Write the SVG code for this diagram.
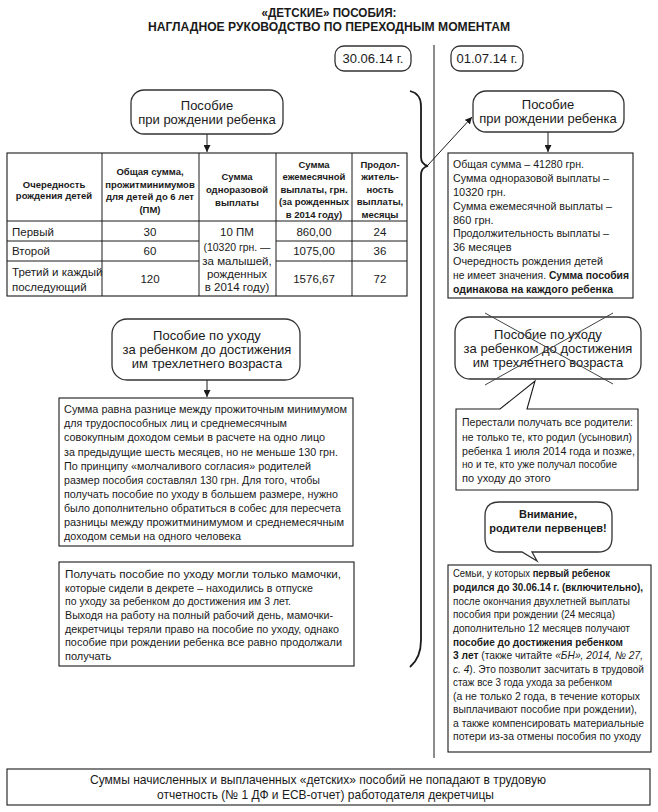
<svg xmlns="http://www.w3.org/2000/svg" width="658" height="812" viewBox="0 0 658 812">
<defs>
<style>
text{font-family:"Liberation Sans",Arial,sans-serif;fill:#1a1a1a}
.t{font-size:13px;font-weight:bold}
.n{font-size:13px;text-anchor:middle}
.f{font-size:13px}
.h{font-size:9.5px;font-weight:bold;text-anchor:middle}
.d{font-size:11.5px;text-anchor:middle}
.dl{font-size:11.5px}
.b{font-size:11px}
.bl{font-size:11.5px}
.box{fill:#fff;stroke:#1a1a1a;stroke-width:1.1}
.rb{fill:#fff;stroke:#333;stroke-width:1.3}
.ln{stroke:#1a1a1a;stroke-width:1;fill:none}
.bold{font-weight:bold}
.it{font-style:italic}
</style>
<marker id="ah" viewBox="0 0 10 10" refX="10" refY="5" markerWidth="7" markerHeight="7" orient="auto" markerUnits="userSpaceOnUse">
<path d="M0,0 L10,5 L0,10 Z" fill="#1a1a1a"/>
</marker>
</defs>
<rect width="658" height="812" fill="#fff"/>

<g id="title">
<text class="t" x="329" y="17" text-anchor="middle" textLength="135" lengthAdjust="spacingAndGlyphs">«ДЕТСКИЕ» ПОСОБИЯ:</text>
<text class="t" x="329" y="31" text-anchor="middle" textLength="362" lengthAdjust="spacingAndGlyphs">НАГЛАДНОЕ РУКОВОДСТВО ПО ПЕРЕХОДНЫМ МОМЕНТАМ</text>
</g>

<g id="connectors">
<line class="ln" x1="434" y1="45" x2="434" y2="758" stroke-width="1.2"/>
<path d="M410,91 C418,93 421,98 421,106 L421,157 C421,162 424,165 428,166 C424,167 421,170 421,175 L421,640 C421,655 416,662 410,667" fill="none" stroke="#1a1a1a" stroke-width="1.8"/>
<line class="ln" x1="428" y1="165" x2="472" y2="117" stroke="#444" marker-end="url(#ah)"/>
<line class="ln" x1="207" y1="134" x2="207" y2="152" marker-end="url(#ah)"/>
<line class="ln" x1="548" y1="132" x2="548" y2="152" marker-end="url(#ah)"/>
<line class="ln" x1="207" y1="380" x2="207" y2="397" marker-end="url(#ah)"/>
</g>

<g id="date-left">
<rect class="rb" x="335" y="46" width="76" height="25" rx="9"/>
<text class="n" x="373" y="63">30.06.14 г.</text>
</g>
<g id="date-right">
<rect class="rb" x="451" y="46" width="72" height="25" rx="9"/>
<text class="n" x="487" y="63">01.07.14 г.</text>
</g>

<g id="birth-left">
<rect class="rb" x="131" y="90" width="152" height="44" rx="13"/>
<text class="n" x="207" y="110">Пособие</text>
<text class="n" x="207" y="124">при рождении ребенка</text>
</g>

<g id="table">
<rect class="box" x="7" y="153" width="400" height="143"/>
<line class="ln" x1="102" y1="153" x2="102" y2="296"/>
<line class="ln" x1="199" y1="153" x2="199" y2="296"/>
<line class="ln" x1="276" y1="153" x2="276" y2="296"/>
<line class="ln" x1="352" y1="153" x2="352" y2="296"/>
<line class="ln" x1="7" y1="221" x2="407" y2="221"/>
<line class="ln" x1="7" y1="241" x2="199" y2="241"/>
<line class="ln" x1="276" y1="241" x2="407" y2="241"/>
<line class="ln" x1="7" y1="261" x2="199" y2="261"/>
<line class="ln" x1="276" y1="261" x2="407" y2="261"/>
<text class="h" x="54" y="187.5">Очередность</text>
<text class="h" x="54" y="199">рождения детей</text>
<text class="h" x="150" y="175">Общая сумма,</text>
<text class="h" x="150" y="187.5">прожитминимумов</text>
<text class="h" x="150" y="200">для детей до 6 лет</text>
<text class="h" x="150" y="212.5">(ПМ)</text>
<text class="h" x="237" y="180">Сумма</text>
<text class="h" x="237" y="193">одноразовой</text>
<text class="h" x="237" y="206">выплаты</text>
<text class="h" x="314" y="167.5">Сумма</text>
<text class="h" x="314" y="180">ежемесячной</text>
<text class="h" x="314" y="192.5">выплаты, грн.</text>
<text class="h" x="314" y="205">(за рожденных</text>
<text class="h" x="314" y="217.5">в 2014 году)</text>
<text class="h" x="380" y="167.5">Продол-</text>
<text class="h" x="380" y="180">житель-</text>
<text class="h" x="380" y="192.5">ность</text>
<text class="h" x="380" y="205">выплаты,</text>
<text class="h" x="380" y="217.5">месяцы</text>
<text class="dl" x="12" y="236">Первый</text>
<text class="dl" x="12" y="255">Второй</text>
<text class="dl" x="12" y="276">Третий и каждый</text>
<text class="dl" x="12" y="291">последующий</text>
<text class="d" x="150" y="236">30</text>
<text class="d" x="150" y="255">60</text>
<text class="d" x="150" y="283">120</text>
<text class="d" x="237" y="236">10 ПМ</text>
<text class="d" x="237" y="251" textLength="67" lengthAdjust="spacingAndGlyphs">(10320 грн. —</text>
<text class="d" x="237" y="265">за малышей,</text>
<text class="d" x="237" y="278">рожденных</text>
<text class="d" x="237" y="291">в 2014 году)</text>
<text class="d" x="314" y="236">860,00</text>
<text class="d" x="314" y="255">1075,00</text>
<text class="d" x="314" y="283">1576,67</text>
<text class="d" x="380" y="236">24</text>
<text class="d" x="380" y="255">36</text>
<text class="d" x="380" y="283">72</text>
</g>

<g id="birth-right">
<rect class="rb" x="473" y="91" width="151" height="41" rx="13"/>
<text class="n" x="548" y="109">Пособие</text>
<text class="n" x="548" y="123">при рождении ребенка</text>
</g>

<g id="birth-right-info">
<rect class="box" x="448" y="153" width="185" height="145"/>
<text class="b" x="453" y="168" textLength="131" lengthAdjust="spacingAndGlyphs">Общая сумма – 41280 грн.</text>
<text class="b" x="453" y="182" textLength="156" lengthAdjust="spacingAndGlyphs">Сумма одноразовой выплаты –</text>
<text class="b" x="453" y="196">10320 грн.</text>
<text class="b" x="453" y="210" textLength="159" lengthAdjust="spacingAndGlyphs">Сумма ежемесячной выплаты –</text>
<text class="b" x="453" y="224">860 грн.</text>
<text class="b" x="453" y="237" textLength="156" lengthAdjust="spacingAndGlyphs">Продолжительность выплаты –</text>
<text class="b" x="453" y="251">36 месяцев</text>
<text class="b" x="453" y="265" textLength="150" lengthAdjust="spacingAndGlyphs">Очередность рождения детей</text>
<text class="b" x="453" y="279" textLength="176" lengthAdjust="spacingAndGlyphs">не имеет значения. <tspan class="bold">Сумма пособия</tspan></text>
<text class="b bold" x="453" y="293" textLength="160" lengthAdjust="spacingAndGlyphs">одинакова на каждого ребенка</text>
</g>

<g id="care-left">
<rect class="rb" x="112" y="319" width="188" height="61" rx="15"/>
<text class="n" x="207" y="340">Пособие по уходу</text>
<text class="n" x="207" y="354">за ребенком до достижения</text>
<text class="n" x="207" y="368">им трехлетнего возраста</text>
</g>

<g id="care-left-info">
<rect class="box" x="59" y="398" width="294" height="148"/>
<text class="bl" x="64" y="413" textLength="283" lengthAdjust="spacingAndGlyphs">Сумма равна разнице между прожиточным минимумом</text>
<text class="bl" x="64" y="427" textLength="223" lengthAdjust="spacingAndGlyphs">для трудоспособных лиц и среднемесячным</text>
<text class="bl" x="64" y="441" textLength="261" lengthAdjust="spacingAndGlyphs">совокупным доходом семьи в расчете на одно лицо</text>
<text class="bl" x="64" y="456" textLength="274" lengthAdjust="spacingAndGlyphs">за предыдущие шесть месяцев, но не меньше 130 грн.</text>
<text class="bl" x="64" y="470" textLength="247" lengthAdjust="spacingAndGlyphs">По принципу «молчаливого согласия» родителей</text>
<text class="bl" x="64" y="484" textLength="256" lengthAdjust="spacingAndGlyphs">размер пособия составлял 130 грн. Для того, чтобы</text>
<text class="bl" x="64" y="498" textLength="274" lengthAdjust="spacingAndGlyphs">получать пособие по уходу в большем размере, нужно</text>
<text class="bl" x="64" y="512" textLength="277" lengthAdjust="spacingAndGlyphs">было дополнительно обратиться в собес для пересчета</text>
<text class="bl" x="64" y="526" textLength="280" lengthAdjust="spacingAndGlyphs">разницы между прожитминимумом и среднемесячным</text>
<text class="bl" x="64" y="540" textLength="177" lengthAdjust="spacingAndGlyphs">доходом семьи на одного человека</text>
</g>

<g id="care-left-note">
<rect class="box" x="59" y="562" width="295" height="104"/>
<text class="b" x="65" y="578" textLength="276" lengthAdjust="spacingAndGlyphs">Получать пособие по уходу могли только мамочки,</text>
<text class="b" x="65" y="591.5" textLength="248" lengthAdjust="spacingAndGlyphs">которые сидели в декрете – находились в отпуске</text>
<text class="b" x="65" y="605" textLength="226" lengthAdjust="spacingAndGlyphs">по уходу за ребенком до достижения им 3 лет.</text>
<text class="b" x="65" y="619" textLength="268" lengthAdjust="spacingAndGlyphs">Выходя на работу на полный рабочий день, мамочки-</text>
<text class="b" x="65" y="632.5" textLength="274" lengthAdjust="spacingAndGlyphs">декретчицы теряли право на пособие по уходу, однако</text>
<text class="b" x="65" y="646" textLength="277" lengthAdjust="spacingAndGlyphs">пособие при рождении ребенка все равно продолжали</text>
<text class="b" x="65" y="660">получать</text>
</g>

<g id="care-right-crossed">
<rect class="rb" x="455" y="317" width="186" height="62" rx="15"/>
<text class="n" x="548" y="339">Пособие по уходу</text>
<text class="n" x="548" y="353">за ребенком до достижения</text>
<text class="n" x="548" y="367">им трехлетнего возраста</text>
<line x1="485" y1="313" x2="613" y2="384" stroke="#444" stroke-width="1"/>
<line x1="613" y1="313" x2="485" y2="385" stroke="#444" stroke-width="1"/>
</g>

<g id="stopped-callout">
<path d="M456,409 L500,409 L535,381 L527,409 L638,409 L638,490 L456,490 Z" fill="#fff" stroke="#1a1a1a" stroke-width="1.1"/>
<text class="b" x="462" y="426" textLength="171" lengthAdjust="spacingAndGlyphs">Перестали получать все родители:</text>
<text class="b" x="462" y="441" textLength="170" lengthAdjust="spacingAndGlyphs">не только те, кто родил (усыновил)</text>
<text class="b" x="462" y="455" textLength="173" lengthAdjust="spacingAndGlyphs">ребенка 1 июля 2014 года и позже,</text>
<text class="b" x="462" y="468" textLength="155" lengthAdjust="spacingAndGlyphs">но и те, кто уже получал пособие</text>
<text class="b" x="462" y="482">по уходу до этого</text>
</g>

<g id="attention">
<path d="M499,502 H598 Q612,502 612,516 V538 Q612,552 598,552 H532 L537,561 L522,552 H499 Q485,552 485,538 V516 Q485,502 499,502 Z" fill="#fff" stroke="#333" stroke-width="1.3"/>
<text class="b bold" x="548" y="518" text-anchor="middle">Внимание,</text>
<text class="b bold" x="548" y="532" text-anchor="middle">родители первенцев!</text>
</g>

<g id="firstborn-info">
<rect class="box" x="448" y="565" width="203" height="187"/>
<text class="b" x="453" y="577" textLength="157" lengthAdjust="spacingAndGlyphs">Семьи, у которых <tspan class="bold">первый ребенок</tspan></text>
<text class="b bold" x="453" y="591" textLength="190" lengthAdjust="spacingAndGlyphs">родился до 30.06.14 г. (включительно),</text>
<text class="b" x="453" y="604.5" textLength="177" lengthAdjust="spacingAndGlyphs">после окончания двухлетней выплаты</text>
<text class="b" x="453" y="618" textLength="162" lengthAdjust="spacingAndGlyphs">пособия при рождении (24 месяца)</text>
<text class="b" x="453" y="631.5" textLength="177" lengthAdjust="spacingAndGlyphs">дополнительно 12 месяцев получают</text>
<text class="b bold" x="453" y="645.5" textLength="170" lengthAdjust="spacingAndGlyphs">пособие до достижения ребенком</text>
<text class="b" x="453" y="659" textLength="190" lengthAdjust="spacingAndGlyphs"><tspan class="bold">3 лет</tspan> (также читайте <tspan class="it">«БН», 2014, № 27,</tspan></text>
<text class="b" x="453" y="672.5" textLength="191" lengthAdjust="spacingAndGlyphs"><tspan class="it">с. 4</tspan>). Это позволит засчитать в трудовой</text>
<text class="b" x="453" y="686" textLength="159" lengthAdjust="spacingAndGlyphs">стаж все 3 года ухода за ребенком</text>
<text class="b" x="453" y="699.5" textLength="187" lengthAdjust="spacingAndGlyphs">(а не только 2 года, в течение которых</text>
<text class="b" x="453" y="713" textLength="184" lengthAdjust="spacingAndGlyphs">выплачивают пособие при рождении),</text>
<text class="b" x="453" y="726.5" textLength="191" lengthAdjust="spacingAndGlyphs">а также компенсировать материальные</text>
<text class="b" x="453" y="740" textLength="188" lengthAdjust="spacingAndGlyphs">потери из-за отмены пособия по уходу</text>
</g>

<g id="footer">
<rect class="box" x="7" y="769" width="643" height="36"/>
<text class="f" x="90" y="784" textLength="456" lengthAdjust="spacingAndGlyphs">Суммы начисленных и выплаченных «детских» пособий не попадают в трудовую</text>
<text class="f" x="157" y="799" textLength="337" lengthAdjust="spacingAndGlyphs">отчетность (№ 1 ДФ и ЕСВ-отчет) работодателя декретчицы</text>
</g>
</svg>
